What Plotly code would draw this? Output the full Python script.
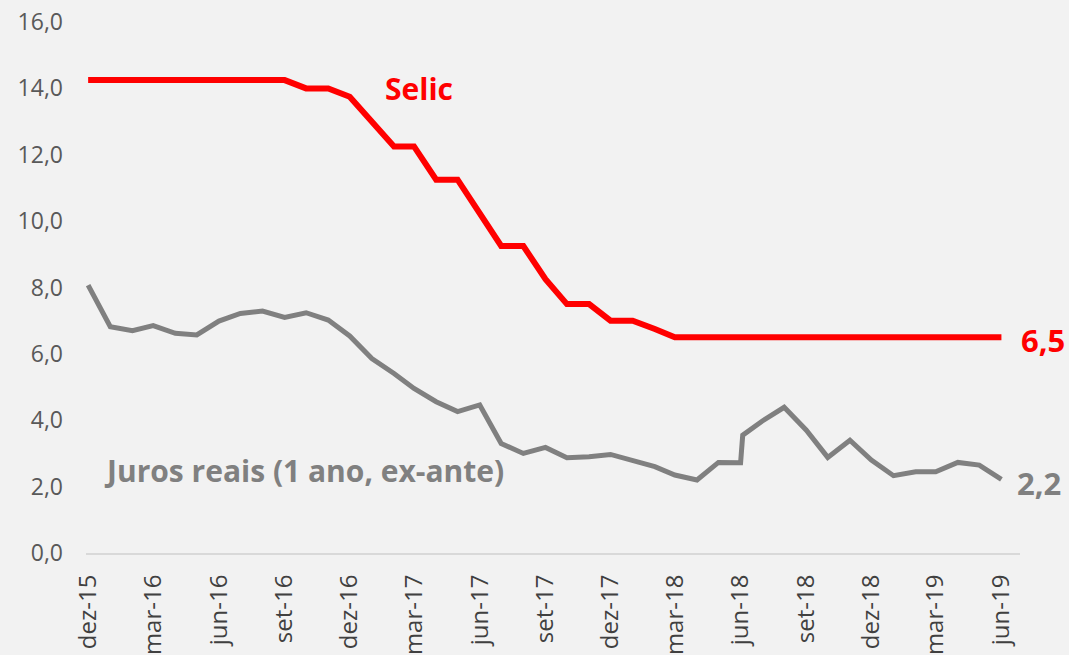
import plotly.graph_objects as go

# Monthly dates dez-15 .. jun-19
months = ["2015-12-01","2016-01-01","2016-02-01","2016-03-01","2016-04-01","2016-05-01",
          "2016-06-01","2016-07-01","2016-08-01","2016-09-01","2016-10-01","2016-11-01",
          "2016-12-01","2017-01-01","2017-02-01","2017-03-01","2017-04-01","2017-05-01",
          "2017-06-01","2017-07-01","2017-08-01","2017-09-01","2017-10-01","2017-11-01",
          "2017-12-01","2018-01-01","2018-02-01","2018-03-01","2018-04-01","2018-05-01",
          "2018-06-01","2018-07-01","2018-08-01","2018-09-01","2018-10-01","2018-11-01",
          "2018-12-01","2019-01-01","2019-02-01","2019-03-01","2019-04-01","2019-05-01",
          "2019-06-01"]

selic = [14.25,14.25,14.25,14.25,14.25,14.25,14.25,14.25,14.25,14.25,14.0,14.0,
         13.75,13.0,12.25,12.25,11.25,11.25,10.25,9.25,9.25,8.25,7.5,7.5,
         7.0,7.0,6.75,6.5,6.5,6.5,6.5,6.5,6.5,6.5,6.5,6.5,
         6.5,6.5,6.5,6.5,6.5,6.5,6.5]

juros_dates = ["2015-12-01","2016-01-01","2016-02-01","2016-03-01","2016-04-01","2016-05-01",
               "2016-06-01","2016-07-01","2016-08-01","2016-09-01","2016-10-01","2016-11-01",
               "2016-12-01","2017-01-01","2017-02-01","2017-03-01","2017-04-01","2017-05-01",
               "2017-06-01","2017-07-01","2017-08-01","2017-09-01","2017-10-01","2017-11-01",
               "2017-12-01","2018-01-01","2018-02-01","2018-03-01","2018-04-01","2018-05-01",
               "2018-06-01","2018-06-04","2018-07-01","2018-08-01","2018-09-01","2018-10-01",
               "2018-11-01","2018-12-01","2019-01-01","2019-02-01","2019-03-01","2019-04-01",
               "2019-05-01","2019-06-01"]
juros = [8.07,6.82,6.70,6.85,6.62,6.57,6.99,7.22,7.29,7.10,7.24,7.02,
         6.54,5.86,5.41,4.96,4.56,4.26,4.46,3.30,3.00,3.18,2.87,2.90,
         2.97,2.80,2.60,2.35,2.20,2.73,2.72,3.55,3.97,4.39,3.70,2.88,
         3.40,2.80,2.33,2.45,2.45,2.73,2.65,2.22]

tick_vals = ["2015-12-01","2016-03-01","2016-06-01","2016-09-01","2016-12-01","2017-03-01",
             "2017-06-01","2017-09-01","2017-12-01","2018-03-01","2018-06-01","2018-09-01",
             "2018-12-01","2019-03-01","2019-06-01"]
tick_text = ["dez-15","mar-16","jun-16","set-16","dez-16","mar-17","jun-17","set-17",
             "dez-17","mar-18","jun-18","set-18","dez-18","mar-19","jun-19"]
y_ticks = [0, 2, 4, 6, 8, 10, 12, 14, 16]

RED = "#ff0000"
GREY = "#808080"
FONT = "Open Sans"

fig = go.Figure()
fig.add_trace(go.Scatter(x=juros_dates, y=juros, mode="lines",
                         line=dict(color=GREY, width=5), name="Juros reais"))
fig.add_trace(go.Scatter(x=months, y=selic, mode="lines",
                         line=dict(color=RED, width=6), name="Selic"))

fig.add_annotation(x="2017-03-08", y=14.0, text="<b>Selic</b>", showarrow=False,
                   font=dict(family=FONT, size=30, color=RED), xanchor="center", yanchor="middle")
fig.add_annotation(x=months[-1], y=selic[-1], text="<b>6,5</b>", showarrow=False,
                   font=dict(family=FONT, size=31, color=RED), xanchor="left", yanchor="middle",
                   xshift=18, yshift=-3)
fig.add_annotation(x=juros_dates[-1], y=juros[-1], text="<b>2,2</b>", showarrow=False,
                   font=dict(family=FONT, size=31, color=GREY), xanchor="left", yanchor="middle",
                   xshift=14, yshift=-4)
fig.add_annotation(x="2015-12-21", y=2.5, text="<b>Juros reais (1 ano, ex-ante)</b>", showarrow=False,
                   font=dict(family=FONT, size=30, color=GREY), xanchor="left", yanchor="middle")

fig.update_layout(
    width=1069, height=655,
    paper_bgcolor="#f2f2f2", plot_bgcolor="#f2f2f2",
    margin=dict(l=86, r=49, t=22, b=102, autoexpand=False),
    showlegend=False,
    separators=",.",
    font=dict(family=FONT),
)
fig.update_xaxes(
    type="date", range=["2015-11-28", "2019-06-27"],
    tickvals=tick_vals, ticktext=tick_text, tickangle=-90,
    tickfont=dict(family=FONT, size=24, color="#404040"),
    showgrid=False, zeroline=False,
    showline=True, linecolor="#d9d9d9", linewidth=2,
    ticks="", ticklabelstandoff=10, automargin=False,
)
fig.update_yaxes(
    range=[0, 16], tickvals=y_ticks, tickformat=".1f",
    tickfont=dict(family=FONT, size=23, color="#595959"),
    showgrid=False, zeroline=False, showline=False,
    ticks="", ticklabelstandoff=22, automargin=False,
)

fig.write_html("out.html", config={"displayModeBar": False},
               post_script="document.body.style.margin='0';document.body.style.background='#f2f2f2';")
